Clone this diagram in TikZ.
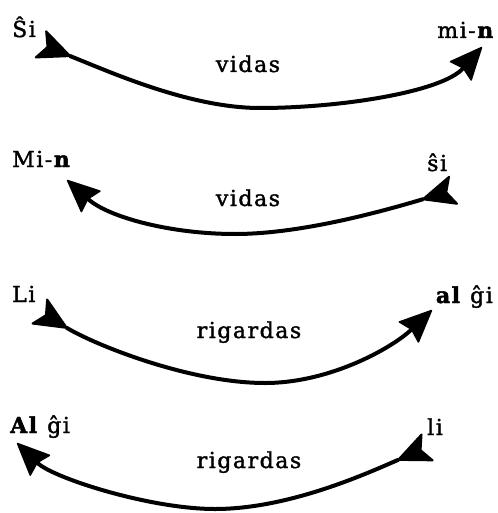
\documentclass[tikz,border=0pt]{standalone}
\usepackage{fontspec}
\setmainfont{DejaVu Serif}[LetterSpace=7, UprightFeatures={FakeBold=1.6}, BoldFeatures={FakeBold=2}]
\usetikzlibrary{arrows.meta}
\tikzset{
  word/.style={font=\fontsize{22}{26}\selectfont, inner sep=0pt},
  shot/.style={line width=4pt,
    {Stealth[reversed,length=36pt,width=32pt,inset=8pt,line width=2pt,round,fill=black]}-{Stealth[length=34pt,width=30pt,inset=4pt,line width=1.5pt,round,fill=black]}}
}
\begin{document}
\begin{tikzpicture}[x=1pt,y=-1pt]
\useasboundingbox (0,0) rectangle (497,513);
% row 1
\node[word,anchor=base west] (si1) at (12,37) {Ŝi};
\node[word,anchor=base east] (min1) at (495,38) {mi-\textbf{n}};
\node[word,anchor=base] (vid1) at (248,72) {vidas};
\coordinate (t1) at (40,44);
\coordinate (b1) at (260,108);
\coordinate (h1) at (482,47);
\draw[shot] (t1) .. controls (110,72) and (190,108) .. (b1) .. controls (340,108) and (442,92) .. (h1);
% row 2
\node[word,anchor=base west] (min2) at (12,167) {Mi-\textbf{n}};
\node[word,anchor=base west] (si2) at (427,171) {ŝi};
\node[word,anchor=base] (vid2) at (248,206) {vidas};
\coordinate (t2) at (454,190);
\coordinate (b2) at (235,234);
\coordinate (h2) at (67,180);
\draw[shot] (t2) .. controls (380,212) and (300,234) .. (b2) .. controls (170,234) and (108,217) .. (h2);
% row 3
\node[word,anchor=base west] (li3) at (12,302) {Li};
\node[word,anchor=base east] (al3) at (493,303) {\textbf{al} ĝi};
\node[word,anchor=base] (rig3) at (249,338) {rigardas};
\coordinate (t3) at (39,311);
\coordinate (b3) at (265,383);
\coordinate (h3) at (432,310);
\draw[shot] (t3) .. controls (95,345) and (190,383) .. (b3) .. controls (330,383) and (392,348) .. (h3);
% row 4
\node[word,anchor=base west] (al4) at (10,433) {\textbf{Al} ĝi};
\node[word,anchor=base west] (li4) at (427,435) {li};
\node[word,anchor=base] (rig4) at (249,468) {rigardas};
\coordinate (t4) at (428,447);
\coordinate (b4) at (215,509);
\coordinate (h4) at (17,443);
\draw[shot] (t4) .. controls (370,472) and (290,509) .. (b4) .. controls (150,509) and (53,478) .. (h4);
\end{tikzpicture}
\end{document}
